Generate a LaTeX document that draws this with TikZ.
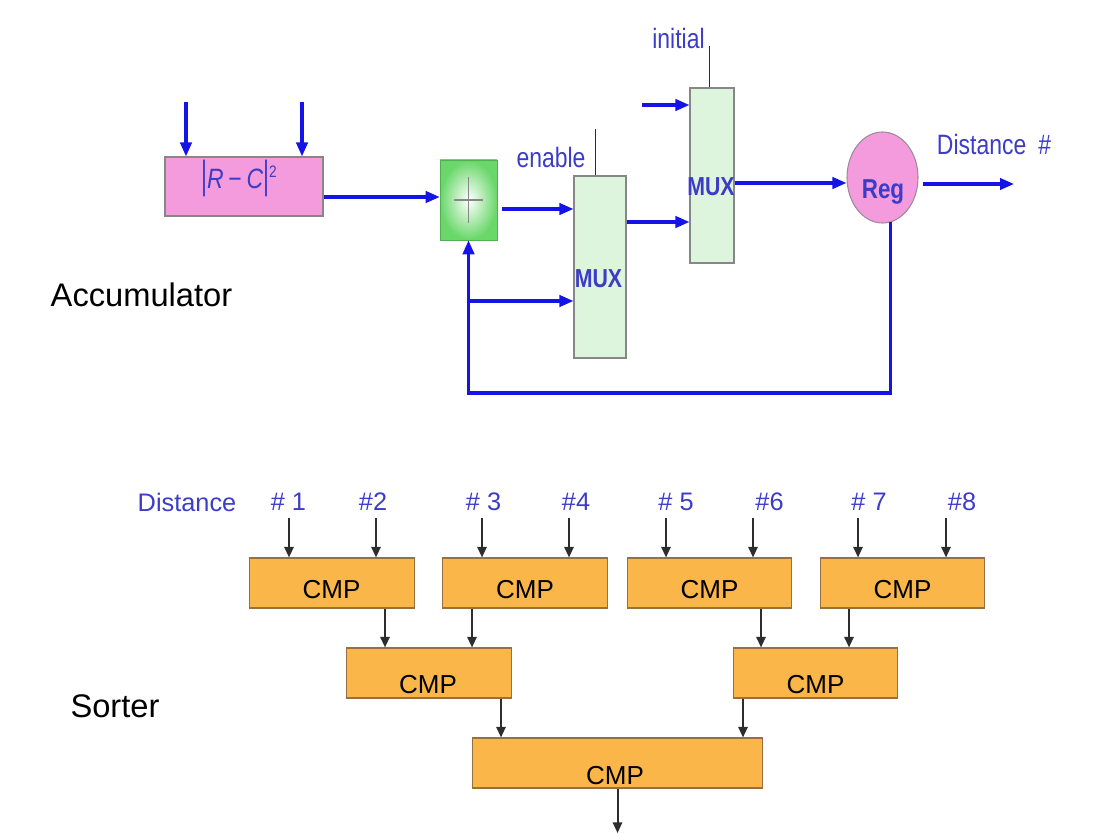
\documentclass[tikz,border=0pt]{standalone}
\usepackage{fontspec}
\usepackage{graphicx}
\setmainfont{Liberation Sans}
\newfontfamily\narrowsf[FakeStretch=0.82]{Liberation Sans}
\usetikzlibrary{arrows.meta,shapes.geometric}
\definecolor{lineblue}{RGB}{20,20,230}
\definecolor{textblue}{RGB}{60,60,200}
\definecolor{regpink}{RGB}{243,155,220}
\definecolor{muxgreen}{RGB}{221,245,221}
\definecolor{addgreen}{RGB}{105,215,105}
\definecolor{boxgray}{RGB}{135,135,135}
\definecolor{cmporange}{RGB}{250,182,72}
\definecolor{cmpedge}{RGB}{150,112,62}
\definecolor{arrowgray}{RGB}{45,45,45}
\tikzset{
  barrow/.style={draw=lineblue,line width=2.3pt,-{Triangle[length=10.5pt,width=8.5pt]}},
  karrow/.style={draw=arrowgray,line width=1.5pt,-{Triangle[length=8pt,width=7pt]}},
  tickline/.style={draw=arrowgray,line width=0.7pt},
  rcbox/.style={draw=boxgray,fill=regpink,line width=0.8pt,minimum width=118.5pt,minimum height=44.25pt,inner sep=0pt},
  addbox/.style={draw=addgreen!80!black,shading=radial,inner color=white,outer color=addgreen,minimum width=42.75pt,minimum height=60pt,inner sep=0pt},
  muxbox/.style={draw=boxgray,fill=muxgreen,line width=0.8pt,inner sep=0pt},
  regnode/.style={ellipse,draw=boxgray!80!regpink,fill=regpink,line width=0.8pt,minimum width=53.25pt,minimum height=68.25pt,inner sep=0pt},
  cmpbox/.style={draw=cmpedge,fill=cmporange,line width=0.8pt,minimum width=123.5pt,minimum height=37.5pt,inner sep=0pt},
  cmptext/.style={inner sep=0pt,font=\fontsize{19.5}{22}\selectfont},
  bluetext/.style={inner sep=0pt,text=textblue,font=\narrowsf\fontsize{21}{24}\selectfont},
  boldtext/.style={inner sep=0pt,text=textblue,font=\narrowsf\bfseries\fontsize{19.5}{22}\selectfont},
  lbl/.style={inner sep=0pt,text=textblue,font=\fontsize{19}{22}\selectfont},
  title/.style={inner sep=0pt,font=\fontsize{24.5}{28}\selectfont}
}
\begin{document}
\begin{tikzpicture}[x=0.75pt,y=-0.75pt]
  \useasboundingbox (0,0) rectangle (1112,834);
  % accumulator
  \node[title] (acc) at (141.5,295) {Accumulator};
  \node[rcbox] (rc) at (244,186.5) {};
  \node[bluetext] (rct) at (239,178) {\scalebox{1}[1.4]{|}\textit{R}\,−\,\textit{C}\scalebox{1}[1.4]{|}\raisebox{8pt}{\fontsize{12.5}{13}\selectfont 2}};
  \node[addbox] (add) at (468.5,200) {};
  \draw[boxgray,line width=0.8pt] ([xshift=-11pt]add.center) -- ([xshift=11pt]add.center);
  \draw[boxgray,line width=0.8pt] ([yshift=-17pt]add.center) -- ([yshift=17pt]add.center);
  \node[muxbox,minimum width=39pt,minimum height=136.5pt] (mux1) at (600,267) {};
  \node[boldtext] (mux1t) at (598.5,279) {MUX};
  \node[muxbox,minimum width=33pt,minimum height=131.25pt] (mux2) at (712,175.5) {};
  \node[boldtext] (mux2t) at (711,187) {MUX};
  \node[regnode] (reg) at (882.5,177.5) {};
  \node[boldtext,font=\narrowsf\bfseries\fontsize{20.5}{23}\selectfont] (regt) at (883,192) {Reg};
  \node[bluetext] (en) at (551,157) {enable};
  \node[bluetext] (ini) at (678.5,38) {initial};
  \node[bluetext] (dout) at (994,144) {Distance\hspace{9pt}\#};
  \draw[tickline] (mux1.north -| 595.5,0) -- ++(0,-46);
  \draw[tickline] (mux2.north -| 709,0) -- ++(0,-41);
  \coordinate (in1) at (186,102);
  \coordinate (in2) at (302,102);
  \coordinate (in3) at (642,105);
  \coordinate (out) at (1014,184);
  \coordinate (fb) at (add.south |- 0,393);
  \draw[barrow] (in1) -- (in1 |- rc.north);
  \draw[barrow] (in2) -- (in2 |- rc.north);
  \draw[barrow] (rc.east |- 0,197) -- (add.west |- 0,197);
  \draw[barrow] (add.east |- 0,209) ++(5,0) -- (mux1.west |- 0,209);
  \draw[barrow] (mux1.east |- 0,222) -- (mux2.west |- 0,222);
  \draw[barrow] (in3) -- (mux2.west |- in3);
  \draw[barrow] (mux2.east |- 0,183) -- (reg.west |- 0,183);
  \draw[barrow] (reg.east |- out) ++(4,0) -- (out);
  \draw[barrow] (reg.-80) |- (fb) -- (add.south);
  \draw[barrow] (add.south |- 0,301) -- (mux1.west |- 0,301);
  % sorter
  \node[title] (sort) at (115,706) {Sorter};
  \node[lbl] (dist) at (187,502) {Distance};
  \foreach \t/\x [count=\i] in {\# 1/288.5,\#2/373,\# 3/483.5,\#4/576,\# 5/676,\#6/769.5,\# 7/869,\#8/962}
    \node[lbl] (l\i) at (\x,502) {\t};
  \node[cmpbox] (c1) at (332,583) {};
  \node[cmpbox] (c2) at (525,583) {};
  \node[cmpbox] (c3) at (709.5,583) {};
  \node[cmpbox] (c4) at (902.5,583) {};
  \node[cmpbox] (c5) at (428.75,673) {};
  \node[cmpbox] (c6) at (815.5,673) {};
  \node[cmpbox,minimum width=217.5pt] (c7) at (617.5,763) {};
  \foreach \n/\x/\y in {c1/331.5/590,c2/525/590,c3/709.5/590,c4/902.5/590,c5/428/685,c6/815.5/685,c7/615/776}
    \node[cmptext] (\n-t) at (\x,\y) {CMP};
  \foreach \x/\b [count=\i] in {289/c1,376/c1,482/c2,569/c2,666/c3,753/c3,858/c4,946/c4}{
    \coordinate (i\i) at (\x,518);
    \draw[karrow] (i\i) -- (i\i |- \b.north);
  }
  \draw[karrow] (c1.south -| 385,0) -- (c5.north -| 385,0);
  \draw[karrow] (c2.south -| 472,0) -- (c5.north -| 472,0);
  \draw[karrow] (c3.south -| 761,0) -- (c6.north -| 761,0);
  \draw[karrow] (c4.south -| 849,0) -- (c6.north -| 849,0);
  \draw[karrow] (c5.south -| 501,0) -- (c7.north -| 501,0);
  \draw[karrow] (c6.south -| 743,0) -- (c7.north -| 743,0);
  \coordinate (sout) at (617.5,833);
  \draw[karrow] (c7.south -| sout) -- (sout);
\end{tikzpicture}
\end{document}
